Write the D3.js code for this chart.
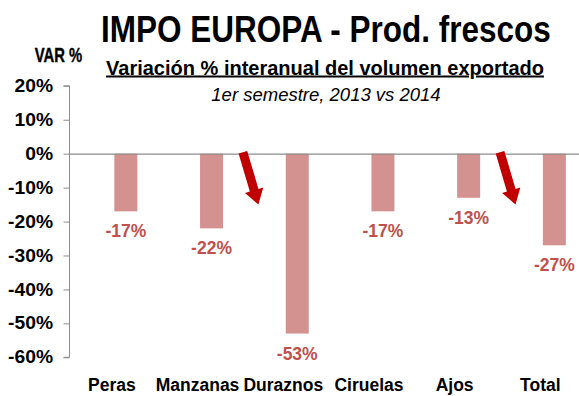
<!DOCTYPE html>
<html>
<head>
<meta charset="utf-8">
<script src="https://cdn.jsdelivr.net/npm/d3@7/dist/d3.min.js"></script>
<style>
  html, body { margin: 0; padding: 0; background: #fff; }
  svg { display: block; }
  text { font-family: "Liberation Sans", Arial, sans-serif; }
</style>
</head>
<body>
<svg id="chart" width="579" height="396"></svg>
<script>
// Year-on-year change in export volume, first half 2013 vs 2014
const categories = ["Peras", "Manzanas", "Duraznos", "Ciruelas", "Ajos", "Total"];
const values = [-17, -22, -53, -17, -13, -27];
const yTicks = [20, 10, 0, -10, -20, -30, -40, -50, -60];
// Downward arrows drawn at the start of these categories, pointing to this value
const arrowCategories = ["Duraznos", "Total"];
const arrowTipValue = -15;

const title = "IMPO EUROPA - Prod. frescos";
const subtitle = "Variación % interanual del volumen exportado";
const period = "1er semestre, 2013 vs 2014";
const yLabel = "VAR %";

const svg = d3.select("#chart");
const W = 579;

const x = d3.scaleBand().domain(categories).range([69, 583.2]).padding(0);
const y = d3.scaleLinear().domain([-60, 20]).range([357.3, 85.8]);

const barColor = "#d39290";
const labelColor = "#c0504d";
const arrowColor = "#c00000";
const axisColor = "#8c8c8c";
const barWidth = 23;
const barX = c => x(c) + x.bandwidth() / 2 + 2.5;

// Titles (the main title and the axis caption are horizontally condensed)
svg.append("text").attr("transform", "translate(326,42) scale(0.84,1)")
  .attr("text-anchor", "middle")
  .attr("font-size", 37.5).attr("font-weight", "bold").attr("fill", "#000").text(title);
svg.append("text").attr("x", 325).attr("y", 74.5).attr("text-anchor", "middle")
  .attr("font-size", 20).attr("font-weight", "bold").attr("fill", "#000")
  .attr("text-decoration", "underline").text(subtitle);
svg.append("text").attr("x", 326).attr("y", 100.5).attr("text-anchor", "middle")
  .attr("font-size", 18.5).attr("font-style", "italic").attr("fill", "#000").text(period);
svg.append("text").attr("transform", "translate(58.5,62) scale(0.76,1)")
  .attr("text-anchor", "middle")
  .attr("font-size", 19.5).attr("font-weight", "bold").attr("fill", "#000")
  .attr("stroke", "#000").attr("stroke-width", 0.4).text(yLabel);

// Y axis
const yAxis = d3.axisLeft(y).tickValues(yTicks).tickSize(6).tickPadding(9)
  .tickFormat(d => d + "%");
const gy = svg.append("g").attr("transform", "translate(69.5,0)").call(yAxis);
gy.select(".domain").attr("stroke", axisColor).attr("d", `M-6,${y(20)}H0V${y(-60)}H-6`);
gy.selectAll(".tick line").attr("stroke", axisColor);
gy.selectAll(".tick text").attr("font-size", 17.5).attr("font-weight", "bold")
  .attr("fill", "#000").attr("font-family", null)
  .attr("transform", "scale(1.1,1)");

// Bars
svg.append("g").selectAll("rect").data(categories).join("rect")
  .attr("x", c => barX(c))
  .attr("width", barWidth)
  .attr("y", y(0))
  .attr("height", (c, i) => y(values[i]) - y(0))
  .attr("fill", barColor);

// Zero line
svg.append("line").attr("x1", 69).attr("x2", W).attr("y1", y(0) + 0.5).attr("y2", y(0) + 0.5)
  .attr("stroke", axisColor).attr("stroke-width", 1.3);

// Value labels
svg.append("g").selectAll("text").data(categories).join("text")
  .attr("x", c => barX(c) + barWidth / 2)
  .attr("y", (c, i) => y(values[i]) + 26)
  .attr("text-anchor", "middle")
  .attr("font-size", 17.5).attr("font-weight", "bold").attr("fill", labelColor)
  .text((c, i) => values[i] + "%");

// Category labels
svg.append("g").selectAll("text").data(categories).join("text")
  .attr("x", c => x(c) + x.bandwidth() / 2)
  .attr("y", 390.5)
  .attr("text-anchor", "middle")
  .attr("font-size", 17.5).attr("font-weight", "bold").attr("fill", "#000")
  .text(c => c);

// Arrows
function arrowPath(x0, y0, x1, y1) {
  const dx = x1 - x0, dy = y1 - y0, len = Math.hypot(dx, dy);
  const ux = dx / len, uy = dy / len, px = -uy, py = ux;
  const sw = 4.5, hw = 9.5, hl = 15;
  const bx = x1 - ux * hl, by = y1 - uy * hl;
  const pts = [
    [x0 + px * sw, y0 + py * sw], [bx + px * sw, by + py * sw], [bx + px * hw, by + py * hw],
    [x1, y1],
    [bx - px * hw, by - py * hw], [bx - px * sw, by - py * sw], [x0 - px * sw, y0 - py * sw]
  ];
  return "M" + pts.map(p => p.join(",")).join("L") + "Z";
}
svg.append("g").selectAll("path").data(arrowCategories).join("path")
  .attr("d", c => arrowPath(x(c) + 2.5, y(0) - 1.5, x(c) + 18, y(arrowTipValue)))
  .attr("fill", arrowColor);
</script>
</body>
</html>
